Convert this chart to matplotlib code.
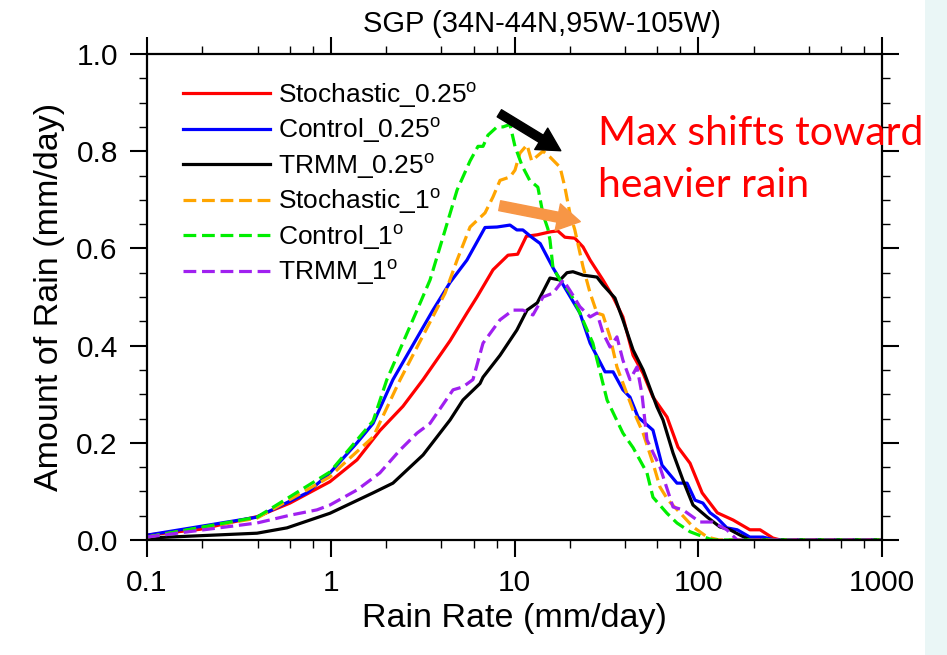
import matplotlib
matplotlib.use("Agg")
import matplotlib.pyplot as plt
import matplotlib.patches as patches
from matplotlib.ticker import FixedLocator, NullFormatter

# === Data ===
stoch025_x = [0.1, 0.194, 0.397, 0.60, 0.99, 1.39, 1.85, 2.47, 3.18, 4.46, 5.51, 6.25, 7.64, 9.22,
              10.4, 11.6, 13.3, 15.6, 17.2, 18.8, 21.3, 23.6, 25.8, 30.3, 34.4, 38.9, 44.2, 50.1,
              56.7, 67.6, 77.6, 90.2, 105, 127, 155, 191, 217, 255, 280, 1000]
stoch025_y = [0.010, 0.022, 0.048, 0.076, 0.120, 0.165, 0.225, 0.275, 0.330, 0.410, 0.467, 0.500,
              0.556, 0.586, 0.588, 0.625, 0.628, 0.634, 0.636, 0.623, 0.621, 0.603, 0.576, 0.535,
              0.500, 0.459, 0.380, 0.343, 0.294, 0.253, 0.191, 0.158, 0.097, 0.056, 0.041, 0.021,
              0.021, 0.004, 0.0, 0.0]

ctrl025_x = [0.1, 0.397, 0.743, 0.99, 1.39, 1.70, 2.18, 3.60, 4.46, 5.51, 6.91, 8.03, 9.45, 10.3,
             11.1, 12.4, 13.8, 16.2, 18.4, 22.7, 25.8, 31.1, 34.4, 38.9, 42.5, 47.0, 56.7, 63.5,
             76.6, 86.9, 96.0, 106, 116, 127, 143, 163, 191, 225, 260, 1000]
ctrl025_y = [0.010, 0.047, 0.097, 0.138, 0.200, 0.240, 0.330, 0.473, 0.530, 0.576, 0.643, 0.644,
             0.648, 0.638, 0.638, 0.623, 0.610, 0.560, 0.525, 0.467, 0.405, 0.346, 0.346, 0.309,
             0.294, 0.253, 0.226, 0.154, 0.117, 0.117, 0.082, 0.076, 0.056, 0.045, 0.025, 0.021,
             0.006, 0.006, 0.0, 0.0]

trmm025_x = [0.1, 0.397, 0.578, 0.99, 1.70, 2.18, 3.18, 4.46, 5.24, 6.49, 6.74, 8.34, 10.3, 11.7,
             13.3, 15.6, 17.7, 19.3, 20.8, 23.6, 28.1, 30.3, 35.2, 38.9, 44.2, 50.1, 52.6, 59.6,
             64.3, 72.9, 82.6, 93.6, 112, 131, 149, 169, 191, 1000]
trmm025_y = [0.004, 0.014, 0.025, 0.055, 0.097, 0.117, 0.175, 0.247, 0.288, 0.322, 0.335, 0.380,
             0.432, 0.473, 0.488, 0.539, 0.535, 0.550, 0.552, 0.545, 0.541, 0.525, 0.498, 0.453,
             0.391, 0.350, 0.329, 0.274, 0.247, 0.179, 0.123, 0.072, 0.047, 0.027, 0.021, 0.010,
             0.0, 0.0]

stoch1_x = [0.1, 0.397, 0.99, 1.123, 1.70, 2.38, 4.19, 4.87, 5.73, 6.91, 7.64, 8.34, 9.45, 10.06,
            10.7, 11.7, 12.4, 13.3, 14.3, 15.6, 17.7, 18.8, 20.0, 21.3, 23.6, 25.8, 28.1, 30.3,
            33.1, 36.1, 38.9, 44.2, 50.1, 56.7, 61.9, 68.5, 79.6, 93.6, 112, 130, 1000]
stoch1_y = [0.006, 0.045, 0.130, 0.150, 0.212, 0.329, 0.508, 0.576, 0.644, 0.673, 0.706, 0.740,
            0.747, 0.761, 0.796, 0.813, 0.780, 0.790, 0.800, 0.788, 0.767, 0.726, 0.673, 0.638,
            0.562, 0.508, 0.467, 0.463, 0.418, 0.356, 0.323, 0.267, 0.220, 0.158, 0.109, 0.082,
            0.056, 0.027, 0.006, 0.0, 0.0]

ctrl1_x = [0.1, 0.397, 0.99, 1.70, 2.02, 2.95, 3.47, 4.08, 4.87, 5.73, 6.33, 6.74, 7.17, 8.03,
           8.66, 9.45, 10.06, 11.0, 12.1, 13.4, 14.3, 15.2, 15.6, 16.2, 17.7, 20.0, 21.9, 26.7,
           31.9, 38.9, 44.2, 52.6, 56.7, 67.6, 76.6, 90.2, 106, 120, 1000]
ctrl1_y = [0.006, 0.047, 0.140, 0.245, 0.330, 0.473, 0.535, 0.623, 0.720, 0.780, 0.810, 0.810,
           0.833, 0.850, 0.850, 0.855, 0.810, 0.770, 0.740, 0.726, 0.670, 0.640, 0.617, 0.560,
           0.535, 0.510, 0.480, 0.405, 0.288, 0.220, 0.190, 0.138, 0.088, 0.055, 0.035, 0.017,
           0.007, 0.0, 0.0]

trmm1_x = [0.1, 0.194, 0.397, 0.60, 0.841, 0.99, 1.39, 1.85, 2.38, 2.95, 3.47, 4.63, 5.24, 5.94,
           6.74, 8.34, 9.81, 11.1, 12.6, 14.3, 16.2, 18.4, 20.0, 22.7, 25.8, 28.1, 30.3, 33.1,
           36.1, 38.9, 42.5, 46.4, 49.4, 52.6, 61.9, 72.9, 82.6, 102, 120, 143, 163, 1000]
trmm1_y = [0.006, 0.020, 0.035, 0.051, 0.062, 0.072, 0.103, 0.138, 0.185, 0.220, 0.240, 0.309,
           0.315, 0.330, 0.405, 0.453, 0.473, 0.473, 0.463, 0.500, 0.508, 0.535, 0.514, 0.480,
           0.459, 0.467, 0.426, 0.397, 0.418, 0.370, 0.330, 0.356, 0.300, 0.206, 0.150, 0.068,
           0.062, 0.037, 0.037, 0.021, 0.0, 0.0]

xticks = [0.1, 1, 10, 100, 1000]
xtick_labels = ["0.1", "1", "10", "100", "1000"]
yticks = [0.0, 0.2, 0.4, 0.6, 0.8, 1.0]
ytick_labels = ["0.0", "0.2", "0.4", "0.6", "0.8", "1.0"]

# === Style ===
plt.rcParams['font.family'] = ['Liberation Sans', 'DejaVu Sans']
plt.rcParams['mathtext.fontset'] = 'custom'
plt.rcParams['mathtext.rm'] = 'Liberation Sans'

DEG = r"$^{\mathrm{o}}$"
LW = 2.3
DASH = (0, (4, 1.8))

series = [
    (stoch025_x, stoch025_y, "red", "-", "Stochastic_0.25" + DEG),
    (ctrl025_x, ctrl025_y, "blue", "-", "Control_0.25" + DEG),
    (trmm025_x, trmm025_y, "black", "-", "TRMM_0.25" + DEG),
    (stoch1_x, stoch1_y, "#ffa500", DASH, "Stochastic_1" + DEG),
    (ctrl1_x, ctrl1_y, "#00ee00", DASH, "Control_1" + DEG),
    (trmm1_x, trmm1_y, "#a020f0", DASH, "TRMM_1" + DEG),
]

fig = plt.figure(figsize=(9.47, 6.55), dpi=100)
# light slide strip on the right edge
fig.patches.append(patches.Rectangle((925 / 947, 0), 22 / 947, 1, transform=fig.transFigure,
                                     facecolor="#eaf6f6", edgecolor="none", zorder=0))
ax = fig.add_axes([147 / 947, 115 / 655, 735 / 947, 486 / 655])

for xs, ys, color, ls, label in series:
    ax.plot(xs, ys, color=color, linestyle=ls, linewidth=LW, label=label)

ax.set_xscale("log")
ax.set_xlim(0.1, 1000)
ax.set_ylim(0, 1.0)

ax.xaxis.set_major_locator(FixedLocator(xticks))
ax.set_xticklabels(xtick_labels)
minor_x = [m * 10.0 ** e for e in range(-1, 3) for m in (2, 4, 6, 8)]
ax.xaxis.set_minor_locator(FixedLocator(minor_x))
ax.xaxis.set_minor_formatter(NullFormatter())
ax.set_yticks(yticks)
ax.set_yticklabels(ytick_labels)
ax.yaxis.set_minor_locator(FixedLocator([i * 0.05 for i in range(21)]))

ax.tick_params(which="both", direction="out", top=True, right=True, labelsize=21.5)
ax.tick_params(which="major", length=12, width=1.5, pad=9)
ax.tick_params(which="minor", length=6, width=1.0)
for sp in ax.spines.values():
    sp.set_linewidth(1.6)

ax.set_xlabel("Rain Rate (mm/day)", fontsize=24.5, labelpad=4)
ax.set_ylabel("Amount of Rain (mm/day)", fontsize=24.5, labelpad=8)
ax.set_title("SGP (34N-44N,95W-105W)", fontsize=21, pad=16, x=0.537)

leg = ax.legend(loc="upper left", bbox_to_anchor=(0.035, 0.968), frameon=False, fontsize=19,
                handlelength=3.3, handletextpad=0.28, labelspacing=0.22, borderaxespad=0)

# === Annotations ===
ax.annotate("", xy=(18.4, 0.798), xytext=(8.03, 0.881),
            arrowprops=dict(arrowstyle="simple,head_length=0.55,head_width=0.6,tail_width=0.2",
                            mutation_scale=30, color="black"))
ax.annotate("", xy=(23.6, 0.654), xytext=(8.03, 0.689),
            arrowprops=dict(arrowstyle="simple,head_length=0.55,head_width=0.65,tail_width=0.24",
                            mutation_scale=30, color="#f79646"))

fig.text(598 / 947, 1 - 197 / 655, "Max shifts toward\nheavier rain", color="red",
         fontsize=29.5, family=["Lato", "DejaVu Sans"], ha="left", va="baseline",
         linespacing=1.5)

fig.savefig("out.png", dpi=100)
